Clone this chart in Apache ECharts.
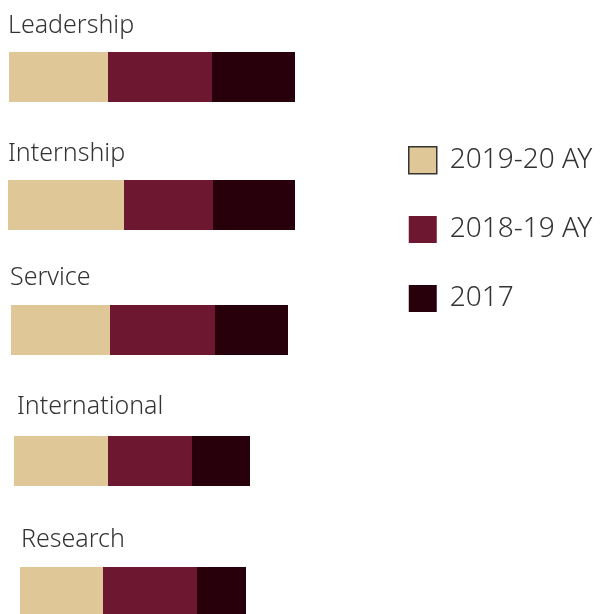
<!DOCTYPE html>
<html>
<head>
<meta charset="utf-8">
<script src="https://cdn.jsdelivr.net/npm/echarts@6/dist/echarts.min.js"></script>
<style>
  html, body { margin: 0; padding: 0; background: #fff; }
  #main { width: 604px; height: 614px; }
</style>
</head>
<body>
<div id="main"></div>
<script>
// data (bar lengths, arbitrary units)
const categories = ["Leadership", "Internship", "Service", "International", "Research"];
const seriesNames = ["2019-20 AY", "2018-19 AY", "2017"];
const ay2019 = [99, 116, 99, 94, 83];
const ay2018 = [104, 89, 105, 84, 94];
const y2017 = [83, 82, 73, 58, 49];

const colors = ["#dfc798", "#6e1730", "#27000b"];
const values = [ay2019, ay2018, y2017];

// layout of each row
const rowLeft = [9, 8, 11, 14, 20];
const rowTop = [52, 180, 305, 436, 567];
const labelLeft = [8, 8, 10, 17, 21];
const labelTop = [13, 141, 265, 394, 527];

let myChart = echarts.init(document.getElementById("main"));

let grids = [], xAxes = [], yAxes = [], titles = [], series = [];
categories.forEach((cat, i) => {
  grids.push({ left: rowLeft[i], top: rowTop[i], width: 300, height: 50 });
  xAxes.push({ type: "value", gridIndex: i, min: 0, max: 300, show: false });
  yAxes.push({ type: "category", gridIndex: i, data: [cat], show: false });
  titles.push({
    text: cat,
    left: labelLeft[i],
    top: labelTop[i],
    padding: 0,
    textStyle: { fontFamily: "Noto Sans", fontSize: 25, fontWeight: 300, color: "#333" },
  });
  seriesNames.forEach((name, k) => {
    series.push({
      name: name,
      type: "bar",
      stack: "row" + i,
      xAxisIndex: i,
      yAxisIndex: i,
      barWidth: 50,
      itemStyle: { color: colors[k] },
      data: [values[k][i]],
      silent: true,
    });
  });
});

let option = {
  animation: false,
  title: titles,
  legend: {
    orient: "vertical",
    left: 403,
    top: 141,
    itemWidth: 28,
    itemHeight: 27,
    itemGap: 41,
    icon: "rect",
    textStyle: { fontFamily: "Noto Sans", fontSize: 28, fontWeight: 300, color: "#333", padding: [0, 0, 0, 8] },
    data: [
      { name: seriesNames[0], itemStyle: { borderColor: "#333", borderWidth: 1.5 } },
      { name: seriesNames[1] },
      { name: seriesNames[2] },
    ],
  },
  grid: grids,
  xAxis: xAxes,
  yAxis: yAxes,
  series: series,
};

myChart.setOption(option);
</script>
</body>
</html>
